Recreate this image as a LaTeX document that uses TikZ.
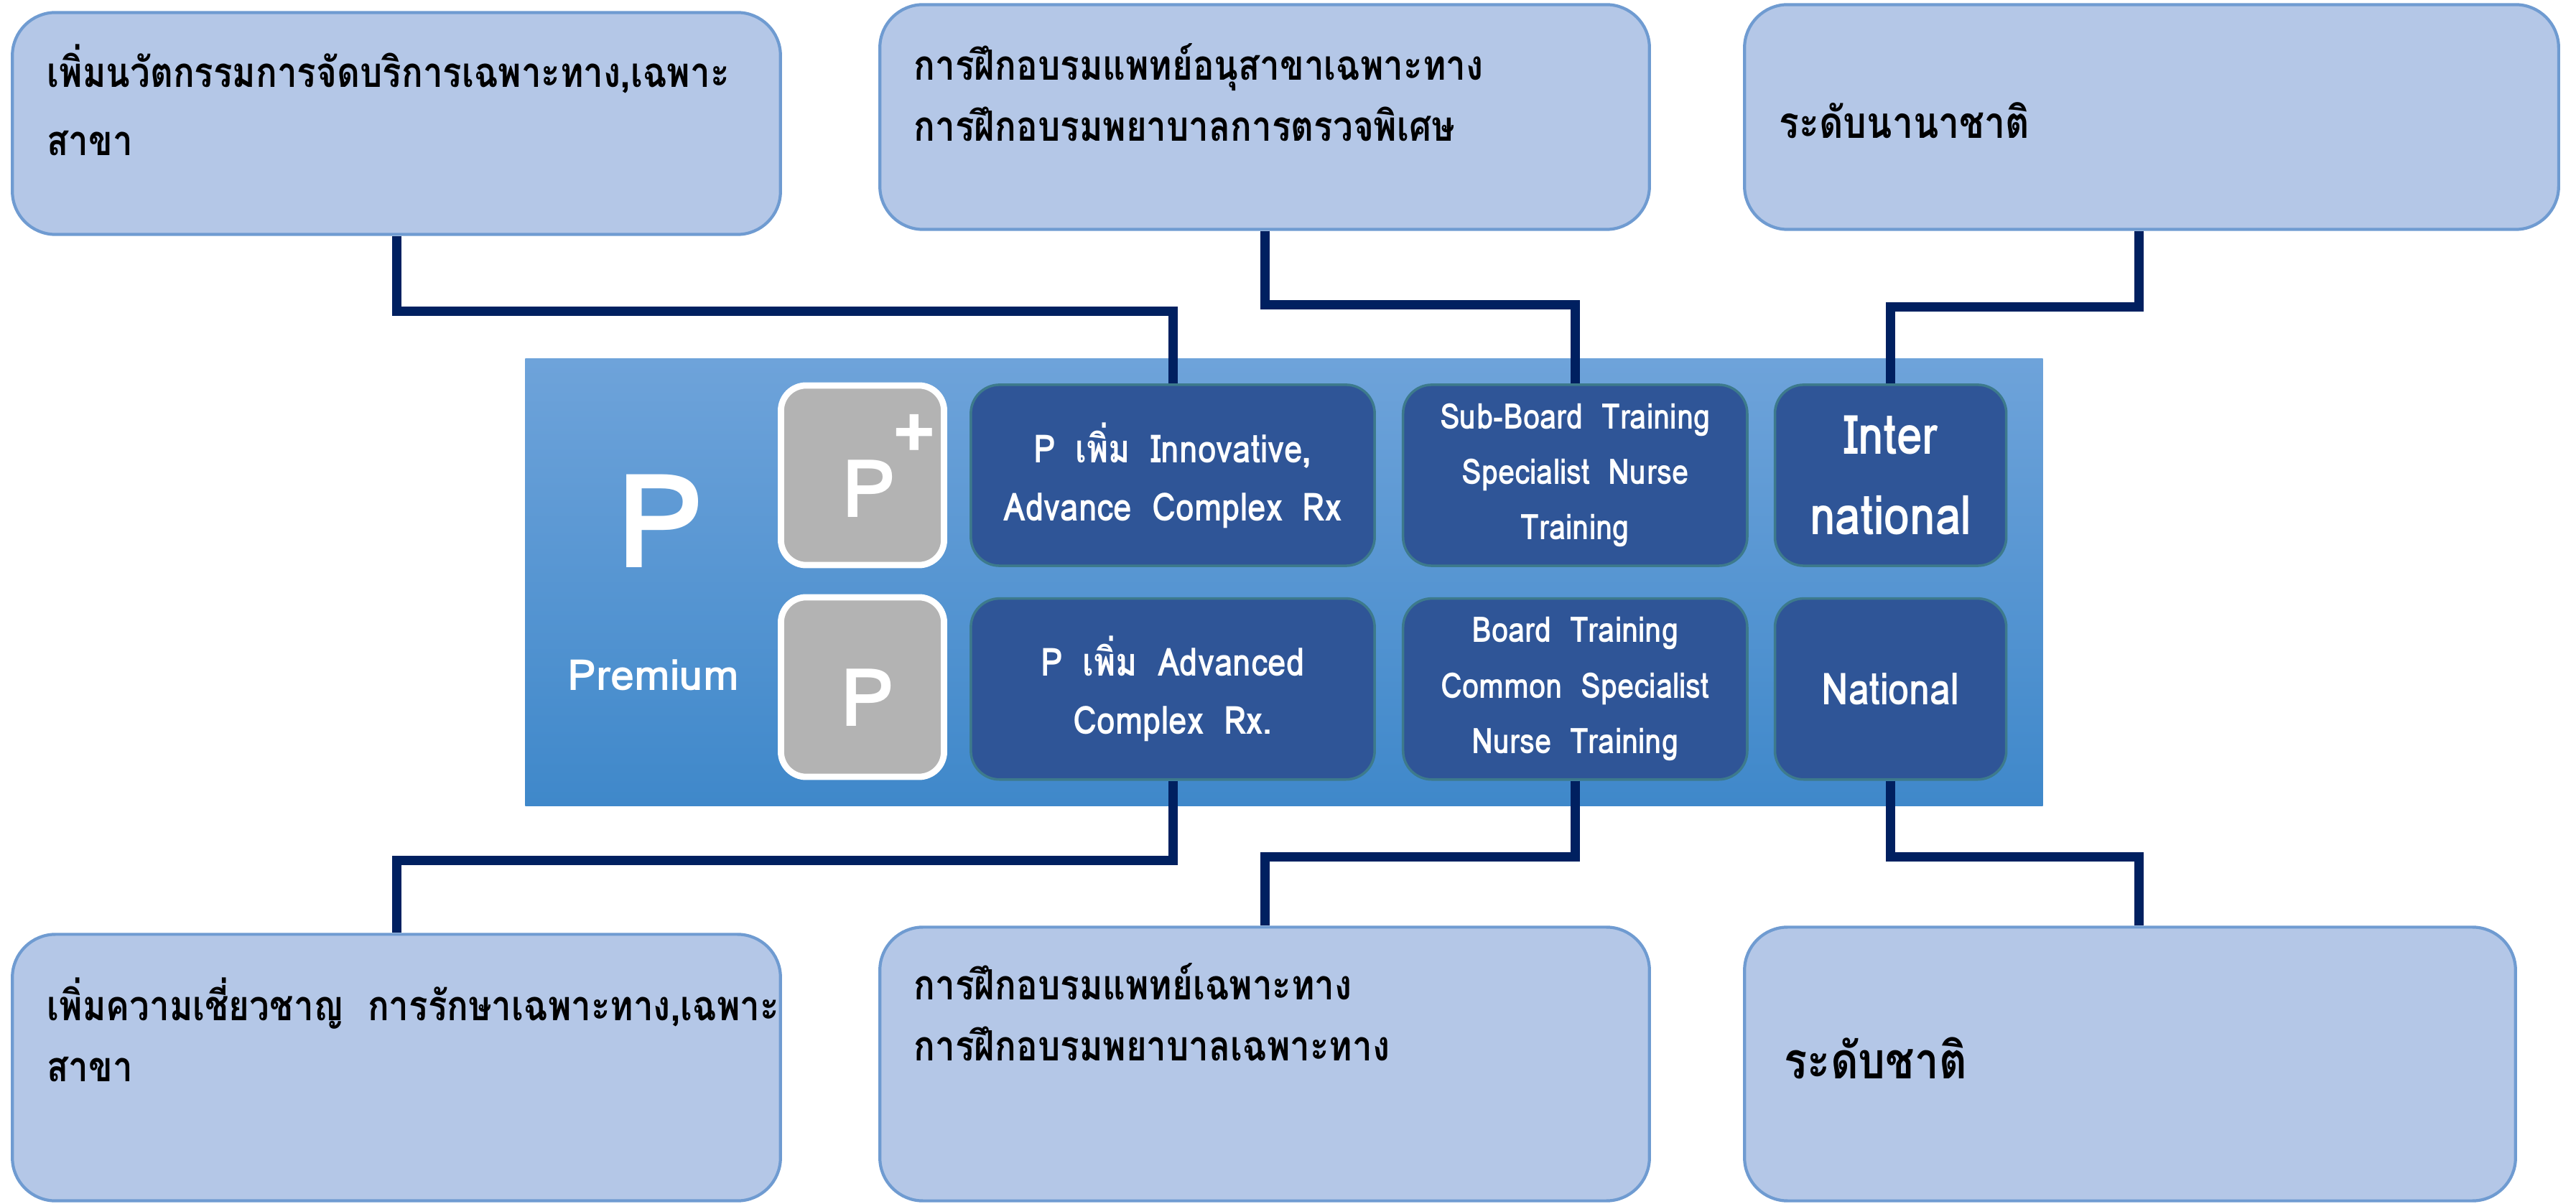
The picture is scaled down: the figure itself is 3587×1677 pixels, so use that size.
\documentclass[tikz,border=0pt]{standalone}
\usepackage{fontspec}
\setmainfont[Script=Thai, FakeStretch=0.85]{Loma}
\newfontfamily\tierfont[Script=Thai, FakeStretch=0.85, WordSpace=1.8]{Loma}
\newfontfamily\pfont{Loma}
\usetikzlibrary{positioning}
\definecolor{boxfill}{HTML}{B4C7E7}
\definecolor{boxline}{HTML}{6F9BD1}
\definecolor{panelTop}{HTML}{6EA3DA}
\definecolor{panelBot}{HTML}{3F88CA}
\definecolor{tierfill}{HTML}{2F5597}
\definecolor{tierline}{HTML}{3D7A8C}
\definecolor{greyfill}{HTML}{B3B3B3}
\definecolor{navy}{HTML}{002060}

\begin{document}
\begin{tikzpicture}[x=0.01cm,y=-0.01cm]
        \tikzset{outbox/.style={draw=boxline, line width=1.2pt, fill=boxfill, rounded corners=0.6cm},
        thtext/.style={anchor=north west, align=left, inner sep=0pt, font=\bfseries\fontsize{16.5}{24}\selectfont},
        tier/.style={draw=tierline, line width=1pt, fill=tierfill, rounded corners=0.4cm, minimum height=2.52cm,
            align=center, text=white, font=\tierfont\bfseries\fontsize{15.4}{23}\selectfont},
        pbox/.style={draw=white, line width=2.5pt, fill=greyfill, rounded corners=0.35cm,
            minimum width=2.27cm, minimum height=2.5cm, text=white, font=\pfont\bfseries\fontsize{32}{32}\selectfont},
        link/.style={draw=navy, line width=3.7pt}
        }
        \useasboundingbox (0,0) rectangle (3587,1677);

%% centre panel
        \node [top color=panelTop, bottom color=panelBot, minimum width=21.12cm, minimum height=6.22cm] (panel) at (1788,811) {};
        \node [text=white, font=\pfont\bfseries\fontsize{52}{52}\selectfont] (bigp) at (919,726) {P};
        \node [text=white, font=\pfont\bfseries\fontsize{17}{17}\selectfont] (premium) at (910,940) {Premium};
        \node [pbox] (pplus) at (1201,662) {\hspace*{5pt}\raisebox{-16.5pt}[0pt][0pt]{P\rlap{\hspace{-1.5pt}\raisebox{23pt}{\fontsize{30}{30}\selectfont+}}}};
        \node [pbox] (pbase) at (1201,957) {\hspace*{4pt}\raisebox{-15.5pt}[0pt][0pt]{P}};

        \node [tier, minimum width=5.62cm] (inno) at (1633,662) {P เพิ่ม Innovative, \\ Advance Complex Rx};
        \node [tier, minimum width=5.62cm, below=0.42cm of inno] (adv) {P เพิ่ม Advanced \\ Complex Rx.};
        \node [tier, minimum width=4.79cm, font=\tierfont\bfseries\fontsize{14}{22}\selectfont, right=0.36cm of inno] (subb) {Sub-Board Training \\ Specialist Nurse \\ Training};
        \node [tier, minimum width=4.79cm, font=\tierfont\bfseries\fontsize{14}{22}\selectfont, right=0.36cm of adv] (board) {Board Training \\ Common Specialist \\ Nurse Training};
        \node [tier, minimum width=3.22cm, font=\bfseries\fontsize{21.5}{32}\selectfont, right=0.35cm of subb] (inter) {Inter \\ national};
        \node [tier, minimum width=3.22cm, font=\bfseries\fontsize{17.5}{17.5}\selectfont, right=0.35cm of board] (natl) {National};

%% outer boxes
        \node [outbox, minimum width=10.69cm, minimum height=3.09cm] (tl) at (552,172) {};
        \node [outbox, minimum width=10.71cm, minimum height=3.13cm] (tm) at (1761,163) {};
        \node [outbox, minimum width=11.33cm, minimum height=3.13cm] (tr) at (2996,163) {};
        \node [outbox, minimum width=10.69cm, minimum height=3.71cm] (bl) at (552,1487) {};
        \node [outbox, minimum width=10.71cm, minimum height=3.81cm] (bm) at (1761,1482) {};
        \node [outbox, minimum width=10.73cm, minimum height=3.81cm] (br) at (2966,1482) {};

        \node [thtext, font=\bfseries\fontsize{16.5}{27}\selectfont, below right=0.46cm and 0.5cm of tl.north west] (tltext) {เพิ่มนวัตกรรมการจัดบริการเฉพาะทาง,เฉพาะ \\ สาขา};
        \node [thtext, below right=0.56cm and 0.49cm of tm.north west] (tmtext) {การฝึกอบรมแพทย์อนุสาขาเฉพาะทาง \\ การฝึกอบรมพยาบาลการตรวจพิเศษ};
        \node [thtext, font=\bfseries\fontsize{17.3}{24}\selectfont, below right=1.38cm and 0.5cm of tr.north west] (trtext) {ระดับนานาชาติ};
        \node [thtext, below right=0.62cm and 0.5cm of bl.north west] (bltext) {เพิ่มความเชี่ยวชาญ~ การรักษาเฉพาะทาง,เฉพาะ \\ สาขา};
        \node [thtext, below right=0.52cm and 0.49cm of bm.north west] (bmtext) {การฝึกอบรมแพทย์เฉพาะทาง \\ การฝึกอบรมพยาบาลเฉพาะทาง};
        \node [thtext, font=\bfseries\fontsize{20}{24}\selectfont, below right=1.55cm and 0.57cm of br.north west] (brtext) {ระดับชาติ};

%% paths
        \path[link] (tl.south) -- ++(0,105) -| (inno.north)
                    ([xshift=-0.18cm]tr.south) -- ++(0,106) -| (inter.north)
                    (tm.south) -- ++(0,103) -| (subb.north)
                    (adv.south) -- ++(0,111) -| (bl.north)
                    (board.south) -- ++(0,106) -| (bm.north)
                    (natl.south) -- ++(0,106) -| ([xshift=0.12cm]br.north);
\end{tikzpicture}
\end{document}
